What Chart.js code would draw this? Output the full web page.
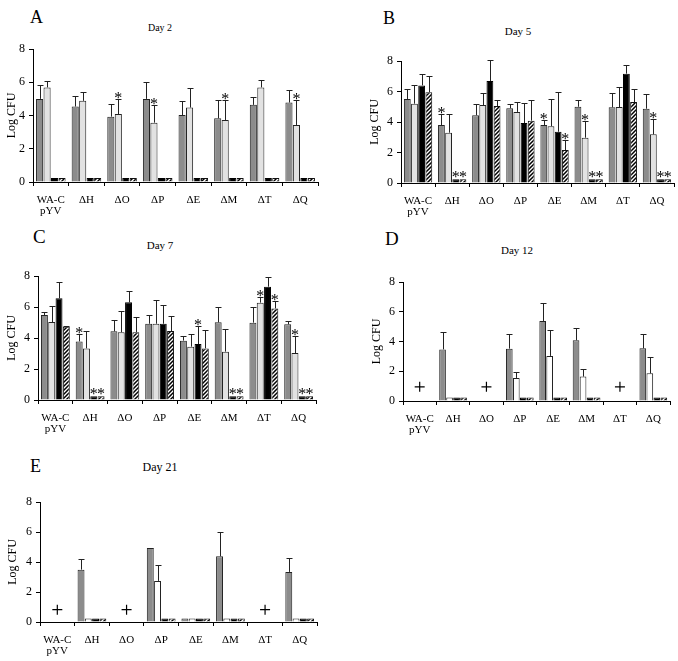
<!DOCTYPE html>
<html><head><meta charset="utf-8">
<script src="https://cdn.jsdelivr.net/npm/chart.js@4.4.1/dist/chart.umd.min.js"></script>
<style>
html,body{margin:0;padding:0;background:#fff;}
body{width:678px;height:661px;position:relative;overflow:hidden;font-family:"Liberation Serif","Times New Roman",serif;}
canvas{position:absolute;}
.lbl{position:absolute;line-height:1;white-space:nowrap;color:#000;font-family:"Liberation Serif","Times New Roman",serif;}
</style></head><body>
<script>
// ---------- data ----------
const categories = [['WA-C','pYV'],'ΔH','ΔO','ΔP','ΔE','ΔM','ΔT','ΔQ'];
const yTicks = [0,2,4,6,8];
const low = [0.24,0.24,0.24,0.24,0.24,0.24,0.24,0.24];
const none = [0,0,0,0,0,0,0,0];

// Panel A, Day 2
const a_s1  = [5.00,4.54,3.93,5.00,4.03,3.83,4.64,4.78];
const a_e1  = [0.85,0.66,0.79,1.00,0.87,1.11,0.50,0.76];
const a_s2  = [5.69,4.88,4.09,3.57,4.48,3.73,5.69,3.43];
const a_e2  = [0.40,0.52,0.93,1.07,1.17,1.21,0.44,1.49];
const a_s3  = low, a_e3 = none, a_s4 = low, a_e4 = none;
const a_stars = [[],[],[2],[2],[],[2],[],[2]];

// Panel B, Day 5
const b_s1  = [5.51,3.80,4.44,4.90,3.80,5.00,4.96,4.87];
const b_e1  = [0.68,0.75,0.76,0.26,0.35,0.46,0.96,0.99];
const b_s2  = [5.20,3.30,5.11,4.66,3.72,2.97,4.98,3.19];
const b_e2  = [1.20,1.25,0.79,0.65,1.77,1.07,1.32,0.98];
const b_s3  = [6.40,0.24,6.69,3.93,3.36,0.24,7.17,0.24];
const b_e3  = [0.77,0,1.40,1.34,2.63,0,0.57,0];
const b_s4  = [5.95,0.24,5.05,4.09,2.16,0.24,5.31,0.24];
const b_e4  = [1.04,0,0.41,1.37,0.66,0,0.88,0];
const b_stars = [[],[1,3,4],[],[],[1,4],[2,3,4],[],[2,3,4]];

// Panel C, Day 7
const c_s1  = [5.48,3.78,4.43,4.92,3.83,5.01,4.99,4.88];
const c_e1  = [0.18,0.46,0.73,0.56,0.32,0.97,0.99,0.20];
const c_s2  = [5.03,3.33,4.37,4.92,3.44,3.12,6.28,3.03];
const c_e2  = [1.03,1.10,1.37,1.51,0.80,1.46,0.34,1.10];
const c_s3  = [6.56,0.24,6.30,4.92,3.61,0.24,7.31,0.24];
const c_e3  = [1.05,0,0.71,1.21,1.16,0,0.65,0];
const c_s4  = [4.73,0.24,4.37,4.45,3.33,0.24,5.91,0.24];
const c_e4  = [0.04,0,1.01,0.97,1.19,0,0.48,0];
const c_stars = [[],[1,3,4],[],[],[3],[3,4],[2,4],[2,3,4]];

// Panel D, Day 12
const d_s1  = [null,3.47,null,3.52,5.38,4.08,null,3.54];
const d_e1  = [0,1.19,0,0.96,1.19,0.85,0,0.99];
const d_s2  = [null,0.24,null,1.55,3.03,1.64,null,1.86];
const d_e2  = [0,0,0,0.42,1.75,0.53,0,1.08];
const d_s3  = [null,0.24,null,0.24,0.24,0.24,null,0.24];
const d_e3  = none;
const d_s4  = [null,0.24,null,0.24,0.24,0.24,null,0.24];
const d_e4  = none;
const d_plus = [0.95,null,0.95,null,null,null,0.95,null];
const d_stars = [[],[],[],[],[],[],[],[]];

// Panel E, Day 21
const e_s1  = [null,3.49,null,4.93,0.24,4.38,null,3.34];
const e_e1  = [0,0.69,0,0.02,0,1.65,0,0.95];
const e_s2  = [null,0.24,null,2.74,0.24,0.24,null,0.24];
const e_e2  = [0,0,0,1.08,0,0,0,0];
const e_s3  = [null,0.24,null,0.24,0.24,0.24,null,0.24];
const e_e3  = none;
const e_s4  = [null,0.24,null,0.24,0.24,0.24,null,0.24];
const e_e4  = none;
const e_plus = [0.82,null,0.82,null,null,null,0.82,null];
const e_stars = [[],[],[],[],[],[],[],[]];

// ---------- layout ----------
const panels = [
  {letter:'A', day:'Day 2', area:{l:33,t:49,r:318,b:182}, titleX:12,
   let:{x:30,y:11,fs:18}, dt:{cx:160,y:25,fs:10}, white:false,
   s:[a_s1,a_s2,a_s3,a_s4], e:[a_e1,a_e2,a_e3,a_e4], plus:null, stars:a_stars},
  {letter:'B', day:'Day 5', area:{l:401,t:61,r:674,b:183}, titleX:375,
   let:{x:383,y:12,fs:18}, dt:{cx:518,y:28,fs:11}, white:false,
   s:[b_s1,b_s2,b_s3,b_s4], e:[b_e1,b_e2,b_e3,b_e4], plus:null, stars:b_stars},
  {letter:'C', day:'Day 7', area:{l:38,t:276,r:316,b:400}, titleX:12,
   let:{x:33,y:230,fs:19}, dt:{cx:160,y:242,fs:11}, white:false,
   s:[c_s1,c_s2,c_s3,c_s4], e:[c_e1,c_e2,c_e3,c_e4], plus:null, stars:c_stars},
  {letter:'D', day:'Day 12', area:{l:403,t:282,r:670,b:401}, titleX:377,
   let:{x:385,y:232,fs:19}, dt:{cx:517,y:247,fs:11}, white:true,
   s:[d_s1,d_s2,d_s3,d_s4], e:[d_e1,d_e2,d_e3,d_e4], plus:d_plus, stars:d_stars},
  {letter:'E', day:'Day 21', area:{l:40,t:502,r:317,b:622}, titleX:13,
   let:{x:30,y:460,fs:18}, dt:{cx:160,y:463,fs:12}, white:true,
   s:[e_s1,e_s2,e_s3,e_s4], e:[e_e1,e_e2,e_e3,e_e4], plus:e_plus, stars:e_stars}
];

function hatchPattern(){
  const c = document.createElement('canvas'); c.width = 4; c.height = 4;
  const g = c.getContext('2d');
  g.fillStyle = '#fff'; g.fillRect(0,0,4,4);
  g.strokeStyle = '#000'; g.lineWidth = 1.5;
  g.beginPath();
  g.moveTo(0,4); g.lineTo(4,0);
  g.moveTo(-1,1); g.lineTo(1,-1);
  g.moveTo(3,5); g.lineTo(5,3);
  g.stroke();
  return g.createPattern(c,'repeat');
}

Chart.defaults.font.family = '"Liberation Serif", "Times New Roman", serif';
Chart.defaults.color = '#000';

function errPlugin(p){
  return {
    id:'errs',
    afterDatasetsDraw(chart){
      const ctx = chart.ctx, ys = chart.scales.y;
      ctx.save();
      ctx.strokeStyle = '#222'; ctx.lineWidth = 1;
      ctx.fillStyle = '#000';
      ctx.font = '16px "Liberation Serif"';
      ctx.textAlign = 'center'; ctx.textBaseline = 'alphabetic';
      for (let i = 0; i < 4; i++){
        const meta = chart.getDatasetMeta(i);
        const ds = chart.data.datasets[i];
        meta.data.forEach((bar,j)=>{
          const v = ds.data[j];
          if (v == null) return;
          const err = ds.errors ? ds.errors[j] : 0;
          let top = bar.y;
          const x = Math.round(bar.x) + 0.5;
          if (err > 0){
            const yt = Math.round(ys.getPixelForValue(v + err)) + 0.5;
            ctx.beginPath();
            ctx.moveTo(x, bar.y); ctx.lineTo(x, yt);
            ctx.moveTo(x - 3, yt); ctx.lineTo(x + 3, yt);
            ctx.stroke();
            top = yt;
          }
          if (p.stars[j].includes(i + 1)){
            ctx.fillText('*', bar.x, top + 3);
          }
        });
      }
      ctx.restore();
    }
  };
}

const hatch = hatchPattern();

panels.forEach(p=>{
  const C = Math.round(p.titleX - 7.2);
  const T = Math.round(p.area.t - 15);
  const W = Math.round(p.area.r - C + 8);
  const H = Math.round(p.area.b - T + 40);
  const yW = p.area.l - C;
  const cv = document.createElement('canvas');
  cv.width = W; cv.height = H;
  cv.style.left = C + 'px'; cv.style.top = T + 'px';
  cv.style.width = W + 'px'; cv.style.height = H + 'px';
  document.body.appendChild(cv);

  const datasets = [
    {data:p.s[0], errors:p.e[0], backgroundColor:'#8c8c8c', borderColor:'#222', borderWidth:1},
    {data:p.s[1], errors:p.e[1], backgroundColor:p.white ? '#ffffff' : '#e2e2e2', borderColor:'#222', borderWidth:1},
    {data:p.s[2], errors:p.e[2], backgroundColor:'#000', borderColor:'#000', borderWidth:1},
    {data:p.s[3], errors:p.e[3], backgroundColor:hatch, borderColor:'#111', borderWidth:1}
  ];
  if (p.plus){
    datasets.push({type:'line', data:p.plus, showLine:false, pointStyle:'cross',
      pointRadius:5, borderColor:'#000', backgroundColor:'#000', borderWidth:1.2});
  }

  new Chart(cv, {
    type:'bar',
    data:{labels:categories, datasets},
    options:{
      responsive:false, animation:false, devicePixelRatio:1,
      layout:{padding:{left:0, top:15, right:8, bottom:0}},
      plugins:{legend:{display:false}, tooltip:{enabled:false}},
      datasets:{bar:{categoryPercentage:0.84, barPercentage:0.95}},
      scales:{
        x:{
          grid:{display:true, drawOnChartArea:false, drawTicks:true, tickLength:4, color:'#000', offset:true},
          border:{display:true, color:'#000', width:1},
          ticks:{font:{size:11, lineHeight:1}, color:'#000', padding:9, maxRotation:0, autoSkip:false},
          afterFit:s=>{ s.height = 40; }
        },
        y:{
          min:0, max:8,
          afterBuildTicks:s=>{ s.ticks = yTicks.map(v=>({value:v})); },
          ticks:{font:{size:12}, color:'#000', padding:4},
          grid:{drawOnChartArea:false, tickLength:4, color:'#000'},
          border:{display:true, color:'#000', width:1},
          title:{display:true, text:'Log CFU', font:{size:12}, color:'#000', padding:0},
          afterFit:s=>{ s.width = yW; }
        }
      }
    },
    plugins:[errPlugin(p)]
  });

  const L = document.createElement('div');
  L.className = 'lbl'; L.textContent = p.letter;
  L.style.fontSize = p.let.fs + 'px';
  L.style.left = p.let.x + 'px';
  L.style.top = (p.let.y - 0.18 * p.let.fs) + 'px';
  document.body.appendChild(L);

  const D = document.createElement('div');
  D.className = 'lbl'; D.textContent = p.day;
  D.style.fontSize = p.dt.fs + 'px';
  D.style.left = (p.dt.cx - 50) + 'px'; D.style.width = '100px'; D.style.textAlign = 'center';
  D.style.top = (p.dt.y - 0.18 * p.dt.fs) + 'px';
  document.body.appendChild(D);
});
</script>
</body></html>
